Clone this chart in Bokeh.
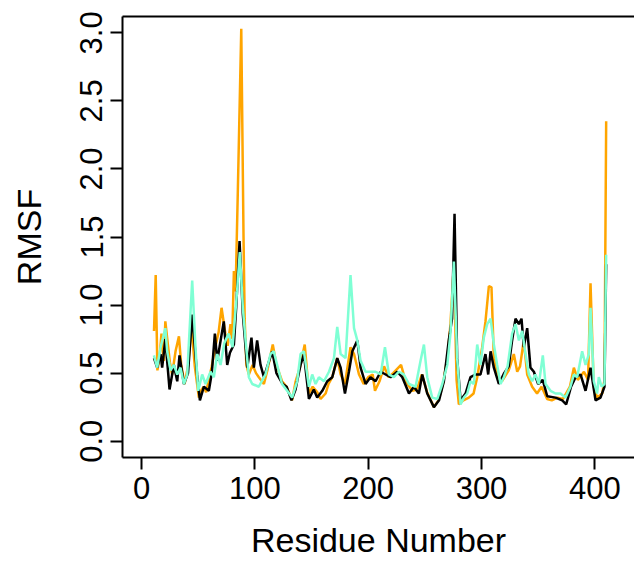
from bokeh.plotting import figure
from bokeh.models import Range1d, FixedTicker, LinearAxis, NumeralTickFormatter
from bokeh.embed import file_html
from bokeh.resources import INLINE

# ---- data ----
orange_x = [11, 12.5, 14, 16, 17.6, 19.7, 21, 23.5, 25, 27, 30, 33, 35, 38, 41, 44, 47, 50.6, 53, 55, 57, 59,
            62, 65, 68, 70.6, 74, 76, 78.5, 80, 81.5, 83, 85, 88, 90, 91, 92.5, 94.7, 98, 101, 103.5, 108, 111,
            115.8, 119, 124, 128, 132.9, 136, 140, 144, 147.7, 151, 155, 158, 162.4, 165, 168.3, 172.7, 175.7,
            179.5, 184.4, 187.5, 191.9, 196, 200, 204, 206, 210, 214, 218, 222, 229, 233, 238.9, 243, 247.4,
            252, 258, 262, 266, 270, 272.6, 275.6, 278, 280, 284, 288.8, 293, 296.2, 300.6, 303.5, 306.5,
            308.8, 310.9, 314, 318, 324, 328.5, 331.5, 334, 337.3, 340.3, 344.7, 349, 353, 357.9, 362, 367,
            372, 378, 381.5, 385, 390.4, 394, 396.2, 399, 402, 406.5, 408.5, 410]
orange_y = [0.81, 1.22, 0.52, 0.62, 0.79, 0.59, 0.88, 0.69, 0.58, 0.49, 0.66, 0.77, 0.56, 0.42, 0.55, 0.85, 0.55,
            0.32, 0.38, 0.40, 0.36, 0.44, 0.55, 0.69, 0.80, 0.98, 0.79, 0.70, 0.86, 0.75, 1.25, 1.10, 1.85, 3.03,
            1.50, 0.90, 0.56, 0.49, 0.56, 0.50, 0.47, 0.42, 0.52, 0.71, 0.56, 0.44, 0.40, 0.30, 0.44, 0.55, 0.71,
            0.35, 0.40, 0.36, 0.31, 0.35, 0.42, 0.47, 0.61, 0.49, 0.42, 0.69, 0.64, 0.49, 0.42, 0.47, 0.49, 0.37,
            0.44, 0.55, 0.47, 0.50, 0.56, 0.44, 0.37, 0.38, 0.49, 0.36, 0.25, 0.30, 0.42, 0.62, 0.86, 1.30, 0.45,
            0.27, 0.30, 0.32, 0.35, 0.47, 0.69, 0.88, 1.14, 1.13, 0.61, 0.48, 0.44, 0.52, 0.64, 0.51, 0.55, 0.74,
            0.49, 0.40, 0.35, 0.40, 0.31, 0.30, 0.32, 0.31, 0.40, 0.54, 0.45, 0.51, 0.45, 1.16, 0.40, 0.32, 0.35,
            0.45, 2.35]

black_x = [11, 13.8, 16.8, 18.2, 21, 24.7, 28.5, 31.5, 33.5, 37.4, 41, 44.7, 49, 51.5, 55, 59.4, 62, 64.7, 66.8,
           69, 72.6, 75.6, 78, 81.5, 83.5, 86.5, 89.4, 93.3, 97, 99.1, 102, 105, 108, 111, 115.3, 119, 124.6,
           128, 132.3, 135.9, 137.3, 140.3, 143.3, 147.7, 152, 155, 159.5, 163.9, 168.3, 172.7, 175.7, 179.5,
           183, 186, 190.4, 193.3, 197.7, 202, 206.5, 211, 215.4, 219.8, 225.7, 230.1, 236, 240.3, 244.7, 247.7,
           252.1, 258, 262.5, 266.8, 271.1, 274, 276.2, 278.5, 281.5, 285.9, 290.3, 294.7, 299.1, 303.5, 305.9,
           308, 310.9, 315.3, 320, 324, 327, 330, 333, 335.3, 337.3, 340.3, 343.2, 346.2, 350, 354, 358, 365.3,
           371.2, 374.7, 379, 383, 387.4, 391.8, 396.2, 400.6, 405, 408.5, 410]
black_y = [0.61, 0.54, 0.64, 0.54, 0.75, 0.38, 0.56, 0.44, 0.63, 0.42, 0.50, 0.93, 0.49, 0.30, 0.40, 0.37, 0.50,
           0.79, 0.59, 0.70, 0.88, 0.56, 0.65, 0.71, 0.98, 1.47, 0.93, 0.54, 0.76, 0.54, 0.74, 0.56, 0.47, 0.55,
           0.66, 0.50, 0.42, 0.40, 0.30, 0.38, 0.44, 0.56, 0.64, 0.31, 0.38, 0.32, 0.37, 0.44, 0.47, 0.61, 0.54,
           0.35, 0.51, 0.66, 0.74, 0.54, 0.42, 0.47, 0.44, 0.51, 0.49, 0.47, 0.51, 0.47, 0.35, 0.40, 0.35, 0.49,
           0.35, 0.25, 0.30, 0.44, 0.74, 0.90, 1.67, 0.61, 0.30, 0.35, 0.47, 0.49, 0.49, 0.64, 0.49, 0.66, 0.54,
           0.42, 0.50, 0.55, 0.74, 0.90, 0.86, 0.90, 0.69, 0.83, 0.54, 0.51, 0.42, 0.45, 0.33, 0.32, 0.30, 0.27,
           0.40, 0.47, 0.49, 0.37, 0.54, 0.30, 0.32, 0.40, 1.30]

aqua_x = [10.9, 13.8, 16.8, 21, 22.6, 25.6, 28.5, 31.5, 34.4, 37.4, 40.3, 44.7, 47.6, 50, 53.5, 56.5, 60.9, 63.8,
          66.8, 69.7, 73, 76.8, 80.3, 84.3, 86.7, 89.4, 91.8, 94.7, 97.7, 103.5, 109.4, 113.8, 116.7, 119.7, 124,
          128.5, 132.9, 137.3, 140.3, 143.3, 147.7, 150.6, 153.6, 156.5, 161, 165.4, 169.8, 172.7, 175.7, 180,
          184.4, 187.5, 190.4, 193.3, 197.7, 202, 206.5, 211, 214.8, 218.3, 222.7, 227, 231.5, 236, 241.8, 246.2,
          249.2, 252.1, 256.5, 261, 265.4, 269.8, 272.6, 275.6, 278.5, 281.5, 284.4, 287.4, 290.3, 293.2, 296.2,
          299.1, 302, 305, 308, 310.9, 313.8, 316.8, 319.7, 323, 327, 330, 333, 335.9, 338.8, 341.8, 344.7, 347.6,
          350.6, 354.1, 356.5, 360.9, 365.3, 369.7, 374.1, 378.5, 381.5, 384.4, 388.8, 391.8, 394.7, 396.2, 399.1,
          402, 403.5, 406, 408.5, 410]
aqua_y = [0.63, 0.54, 0.69, 0.83, 0.66, 0.52, 0.56, 0.49, 0.54, 0.42, 0.49, 1.18, 0.69, 0.37, 0.49, 0.42, 0.51,
          0.47, 0.64, 0.56, 0.72, 0.79, 0.69, 1.10, 1.39, 0.98, 0.74, 0.47, 0.42, 0.40, 0.49, 0.64, 0.66, 0.56,
          0.42, 0.37, 0.32, 0.44, 0.64, 0.66, 0.40, 0.49, 0.42, 0.47, 0.44, 0.51, 0.61, 0.84, 0.64, 0.61, 1.22,
          0.83, 0.74, 0.59, 0.51, 0.51, 0.51, 0.49, 0.69, 0.49, 0.47, 0.51, 0.49, 0.42, 0.40, 0.59, 0.71, 0.47,
          0.32, 0.31, 0.42, 0.56, 0.79, 1.32, 0.61, 0.27, 0.32, 0.35, 0.44, 0.42, 0.71, 0.56, 0.76, 0.86, 0.90,
          0.71, 0.56, 0.42, 0.47, 0.55, 0.79, 0.86, 0.74, 0.81, 0.64, 0.49, 0.44, 0.49, 0.42, 0.63, 0.42, 0.37,
          0.35, 0.35, 0.32, 0.40, 0.49, 0.47, 0.66, 0.56, 0.64, 0.98, 0.44, 0.35, 0.47, 0.40, 0.42, 1.37]

x_ticks = [0, 100, 200, 300, 400]
y_ticks = [0.0, 0.5, 1.0, 1.5, 2.0, 2.5, 3.0]
x_title = "Residue Number"
y_title = "RMSF"

FONT = "Liberation Sans"

p = figure(width=634, height=561,
           x_range=Range1d(-16.8, 435.0), y_range=Range1d(-0.12, 3.12),
           output_backend="svg", toolbar_location=None,
           min_border_left=122, min_border_right=0, min_border_top=16, min_border_bottom=101,
           x_axis_label=x_title, y_axis_label=y_title)

p.xgrid.visible = False
p.ygrid.visible = False
p.outline_line_color = None
p.background_fill_color = "white"
p.border_fill_color = "white"

p.line(orange_x, orange_y, line_color="#FFA500", line_width=2.5)
p.line(black_x, black_y, line_color="black", line_width=2.5)
p.line(aqua_x, aqua_y, line_color="#7FFFD4", line_width=2.5)

for ax in (p.xaxis[0], p.yaxis[0]):
    ax.axis_line_width = 2
    ax.axis_line_color = "black"
    ax.major_tick_out = 12
    ax.major_tick_in = 0
    ax.major_tick_line_width = 2
    ax.minor_tick_line_color = None
    ax.major_label_text_font = FONT
    ax.major_label_text_font_size = "31px"
    ax.major_label_text_color = "black"
    ax.axis_label_text_font = FONT
    ax.axis_label_text_font_size = "34px"
    ax.axis_label_text_font_style = "normal"
    ax.axis_label_text_color = "black"

p.xaxis[0].ticker = FixedTicker(ticks=x_ticks)
p.xaxis[0].major_label_standoff = 7
p.xaxis[0].axis_label_standoff = 19

p.yaxis[0].ticker = FixedTicker(ticks=y_ticks)
p.yaxis[0].formatter = NumeralTickFormatter(format="0.0")
p.yaxis[0].major_label_orientation = "vertical"
p.yaxis[0].major_label_standoff = 8
p.yaxis[0].axis_label_standoff = 30

top = LinearAxis(ticker=FixedTicker(ticks=[]), major_label_text_font_size="0px",
                 major_tick_out=0, major_tick_in=0, minor_tick_out=0, minor_tick_in=0,
                 major_label_standoff=0, axis_line_width=2, axis_line_color="black")
p.add_layout(top, "above")

open("out.html", "w").write(file_html(p, INLINE))
